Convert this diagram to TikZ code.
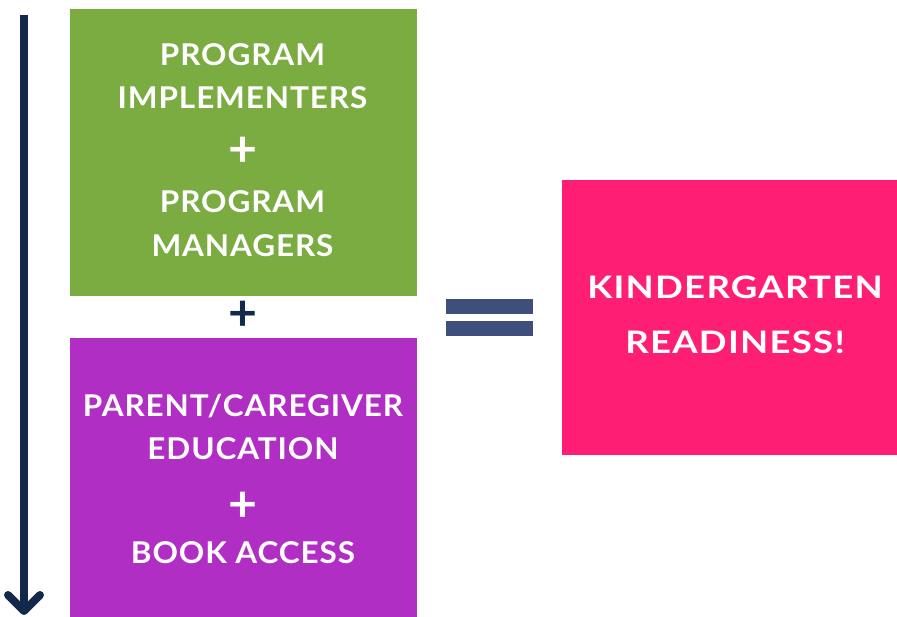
\documentclass[tikz,border=0pt]{standalone}
\usepackage{fontspec}
\setmainfont{Lato}
\newfontfamily\boxfont{Lato}[FakeStretch=1.05,LetterSpace=3]
\newfontfamily\bigfont{Lato}[FakeStretch=1.18,LetterSpace=4]
\definecolor{boxgreen}{HTML}{7BAC42}
\definecolor{boxpurple}{HTML}{B12EC5}
\definecolor{boxpink}{HTML}{FE1F74}
\definecolor{navy}{HTML}{13294B}
\definecolor{eqblue}{HTML}{3F4F7B}
\begin{document}
\begin{tikzpicture}[x=1pt,y=-1pt,
  box/.style={draw=none,inner sep=0,outer sep=0},
  txt/.style={text=white,font=\boxfont\fontsize{30}{30}\selectfont\bfseries,anchor=base,inner sep=0},
  bigtxt/.style={text=white,font=\bigfont\fontsize{31}{31}\selectfont\bfseries,anchor=base,inner sep=0},
  plustxt/.style={font=\fontsize{50}{50}\selectfont\bfseries,anchor=center,inner sep=0},
  flow/.style={draw=navy,line width=8pt}]
\useasboundingbox (0,0) rectangle (897,616);
% boxes
\node[box,fill=boxgreen,minimum width=347pt,minimum height=287pt] (green) at (243.5,152.5) {};
\node[box,fill=boxpurple,minimum width=347pt,minimum height=280pt] (purple) at (243.5,478) {};
\node[box,fill=boxpink,minimum width=335pt,minimum height=275pt] (pink) at (729.5,317.5) {};
% green text
\node[txt] (g1) at (242.5,65) {PROGRAM};
\node[txt] (g2) at (242.5,108) {IMPLEMENTERS};
\node[plustxt,text=white] (gp) at (243,152) {+};
\node[txt] (g3) at (242.5,212) {PROGRAM};
\node[txt] (g4) at (242.5,256) {MANAGERS};
% purple text
\node[txt] (p1) at (243,416) {PARENT/CAREGIVER};
\node[txt] (p2) at (243,459) {EDUCATION};
\node[plustxt,text=white] (pp) at (243,507) {+};
\node[txt] (p3) at (243,563) {BOOK ACCESS};
% pink text
\node[bigtxt] (k1) at (735,298) {KINDERGARTEN};
\node[bigtxt] (k2) at (735,353) {READINESS!};
% middle plus
\node[plustxt,text=navy] (mp) at (243,316) {+};
% equals sign
\node[box,fill=eqblue,minimum width=87pt,minimum height=15pt] (eqa) at (489.5,306.5) {};
\node[box,fill=eqblue,minimum width=87pt,minimum height=15pt] (eqb) at (489.5,328.5) {};
% flow arrow
\coordinate (atop) at (24,15);
\coordinate (atip) at (24,611);
\coordinate (aleft) at (8,595);
\coordinate (aright) at (40,595);
\draw[flow] (atop) -- (atip);
\draw[flow,line cap=round,line join=round] (aleft) -- (atip) -- (aright);
\end{tikzpicture}
\end{document}
